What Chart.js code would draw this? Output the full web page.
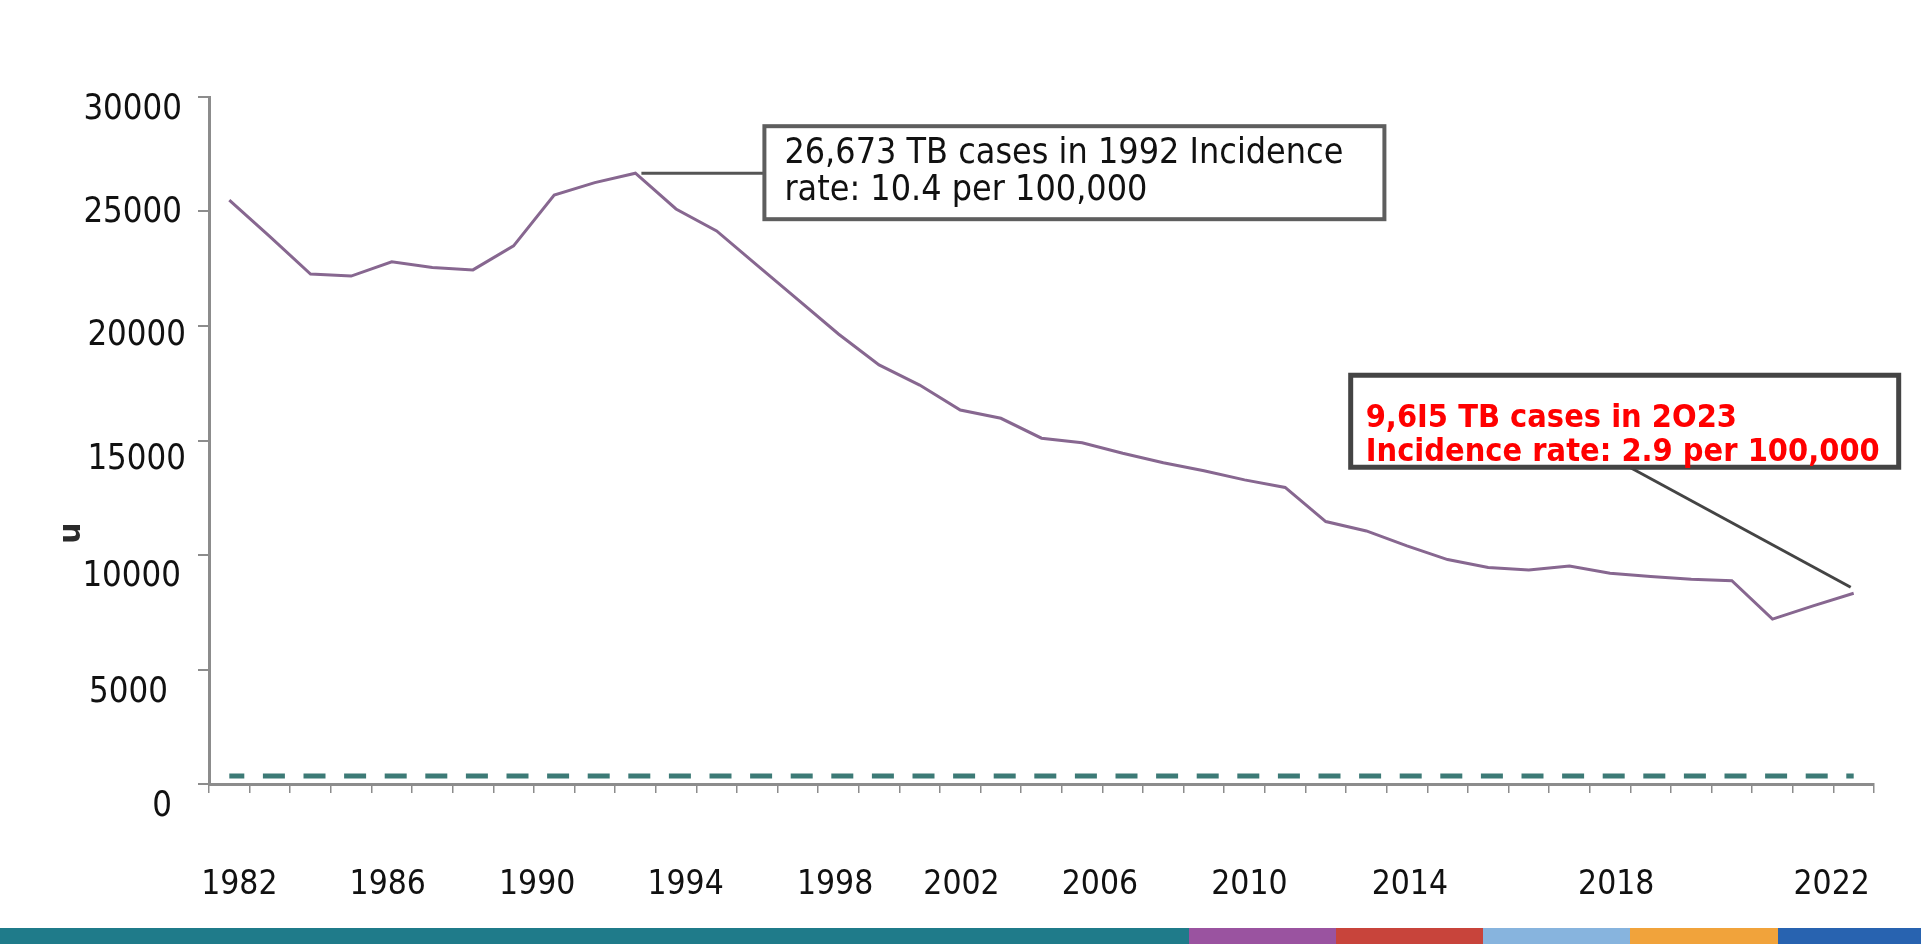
<!DOCTYPE html>
<html>
<head>
<meta charset="utf-8">
<script src="https://cdn.jsdelivr.net/npm/chart.js@4.4.1/dist/chart.umd.min.js"></script>
<style>
	html, body { margin: 0; padding: 0; background: #fff; }
	#wrap { position: relative; width: 1921px; height: 944px; overflow: hidden; }
	#chart { position: absolute; left: 0; top: 0; }
	.band { position: absolute; top: 928px; height: 16px; }
</style>
</head>
<body>
<div id="wrap">
	<canvas id="chart" width="1921" height="928"></canvas>
	<div class="band" style="left:0;width:1189px;background:#1f7b8a"></div>
	<div class="band" style="left:1189px;width:147px;background:#9a53a0"></div>
	<div class="band" style="left:1336px;width:147px;background:#c8443b"></div>
	<div class="band" style="left:1483px;width:147px;background:#87b4de"></div>
	<div class="band" style="left:1630px;width:148px;background:#f1a33b"></div>
	<div class="band" style="left:1778px;width:143px;background:#2863b0"></div>
</div>
<script>
const years = [
	"1982", "1983", "1984", "1985", "1986", "1987", "1988", "1989", "1990", "1991",
	"1992", "1993", "1994", "1995", "1996", "1997", "1998", "1999", "2000", "2001",
	"2002", "2003", "2004", "2005", "2006", "2007", "2008", "2009", "2010", "2011",
	"2012", "2013", "2014", "2015", "2016", "2017", "2018", "2019", "2020", "2021",
	"2022"
];

const tbCases = [
	25500, 23900, 22270, 22180, 22800, 22550, 22450, 23500, 25720, 26260,
	26673, 25110, 24150, 22650, 21150, 19650, 18300, 17420, 16330, 15970,
	15100, 14900, 14440, 14030, 13680, 13280, 12950, 11460, 11050, 10400,
	9800, 9450, 9340, 9520, 9200, 9060, 8940, 8880, 7200, 7780,
	8330
];

// elimination threshold drawn as the dashed line
const targetCases = 350;

const yearLabels = ["1982", "1986", "1990", "1994", "1998", "2002", "2006", "2010", "2014", "2018", "2022"];

const peakNote = ["26,673 TB cases in 1992 Incidence", "rate: 10.4 per 100,000"];
const latestNote = ["9,6I5 TB cases in 2O23", "Incidence rate: 2.9 per 100,000"];

// the captions were placed by hand, so they drift off their ticks a bit
const yearNudge = [10, -4, -17, -31, -44, -80, -104, -117, -119, -75, -22];
const valueNudge = [[-12, 23], [-16, 23], [-3, 22], [2, 19], [2, 10], [-2, 1], [-2, 13]];

const FONT = "'DejaVu Sans', Verdana, sans-serif";
const STRETCH = 1.12;

function tallText(ctx, text, x, y) {
	ctx.save();
	ctx.translate(x, y);
	ctx.scale(1, STRETCH);
	ctx.fillText(text, 0, 0);
	ctx.restore();
}

const callouts = {
	id: "callouts",
	afterDatasetsDraw(chart) {
		const ctx = chart.ctx;
		const x = chart.scales.x;
		const y = chart.scales.y;
		const area = chart.chartArea;

		ctx.save();
		ctx.textBaseline = "middle";

		// value captions left of the axis
		ctx.fillStyle = "#111";
		ctx.font = "31px " + FONT;
		ctx.textAlign = "right";
		y.ticks.forEach((t, i) => {
			const n = valueNudge[i] || [0, 0];
			tallText(ctx, String(t.value), area.left - 25 + n[0], y.getPixelForValue(t.value) + n[1]);
		});

		// year captions under the axis
		ctx.font = "30px " + FONT;
		ctx.textAlign = "center";
		yearLabels.forEach((yr, i) => {
			const px = x.getPixelForValue(years.indexOf(yr)) + yearNudge[i];
			tallText(ctx, yr, px, area.bottom + 101);
		});

		// rotated axis letter
		ctx.save();
		ctx.translate(y.left + 20, area.top + 436);
		ctx.rotate(-Math.PI / 2);
		ctx.font = "bold 30px " + FONT;
		ctx.fillStyle = "#2a2a2a";
		ctx.fillText("u", 0, 0);
		ctx.restore();

		// 1992 peak box
		const pi = years.indexOf("1992");
		const px = x.getPixelForValue(pi);
		const py = y.getPixelForValue(tbCases[pi]);
		ctx.strokeStyle = "#555";
		ctx.lineWidth = 3;
		ctx.beginPath();
		ctx.moveTo(px + 6, py);
		ctx.lineTo(px + 129, py);
		ctx.stroke();
		ctx.fillStyle = "#fff";
		ctx.fillRect(px + 129, py - 47, 620, 93);
		ctx.lineWidth = 4;
		ctx.strokeStyle = "#5e5e5e";
		ctx.strokeRect(px + 129, py - 47, 620, 93);
		ctx.fillStyle = "#111";
		ctx.font = "32px " + FONT;
		ctx.textAlign = "left";
		tallText(ctx, peakNote[0], px + 149, py - 19);
		tallText(ctx, peakNote[1], px + 149, py + 18);

		// latest year box
		const li = tbCases.length - 1;
		const lx = x.getPixelForValue(li);
		const ly = y.getPixelForValue(tbCases[li]);
		ctx.strokeStyle = "#444";
		ctx.lineWidth = 3;
		ctx.beginPath();
		ctx.moveTo(lx - 224, ly - 126);
		ctx.lineTo(lx - 3, ly - 6);
		ctx.stroke();
		ctx.fillStyle = "#fff";
		ctx.fillRect(lx - 503, ly - 218, 548, 92);
		ctx.lineWidth = 5;
		ctx.strokeRect(lx - 503, ly - 218, 548, 92);
		ctx.fillStyle = "#ff0000";
		ctx.font = "bold 29px " + FONT;
		tallText(ctx, latestNote[0], lx - 488, ly - 175);
		tallText(ctx, latestNote[1], lx - 488, ly - 141);

		ctx.restore();
	}
};

new Chart(document.getElementById("chart"), {
	type: "line",
	data: {
		labels: years,
		datasets: [
			{
				data: tbCases,
				borderColor: "#876790",
				borderWidth: 3,
				pointRadius: 0,
				tension: 0
			},
			{
				data: [
					{ x: years[0], y: targetCases },
					{ x: years[years.length - 1], y: targetCases }
				],
				borderColor: "#3c7a76",
				borderWidth: 5,
				borderDash: [22, 18.6],
				borderDashOffset: 7,
				borderCapStyle: "butt",
				pointRadius: 0
			}
		]
	},
	options: {
		responsive: false,
		animation: false,
		layout: {
			padding: { left: 52, top: 97, right: 47, bottom: 0 }
		},
		plugins: {
			legend: { display: false },
			tooltip: { enabled: false }
		},
		scales: {
			x: {
				offset: true,
				grid: {
					offset: true,
					drawOnChartArea: false,
					tickLength: 9,
					color: "#8c8c8c",
					lineWidth: 1.5
				},
				border: { color: "#8c8c8c", width: 3 },
				ticks: { display: false },
				afterFit(scale) { scale.height = 144; }
			},
			y: {
				min: 0,
				max: 30000,
				grid: {
					drawOnChartArea: false,
					tickLength: 11,
					color: "#8c8c8c",
					lineWidth: 2
				},
				border: { color: "#8c8c8c", width: 3 },
				ticks: { stepSize: 5000, display: false },
				afterFit(scale) { scale.width = 157; }
			}
		}
	},
	plugins: [callouts]
});
</script>
</body>
</html>
